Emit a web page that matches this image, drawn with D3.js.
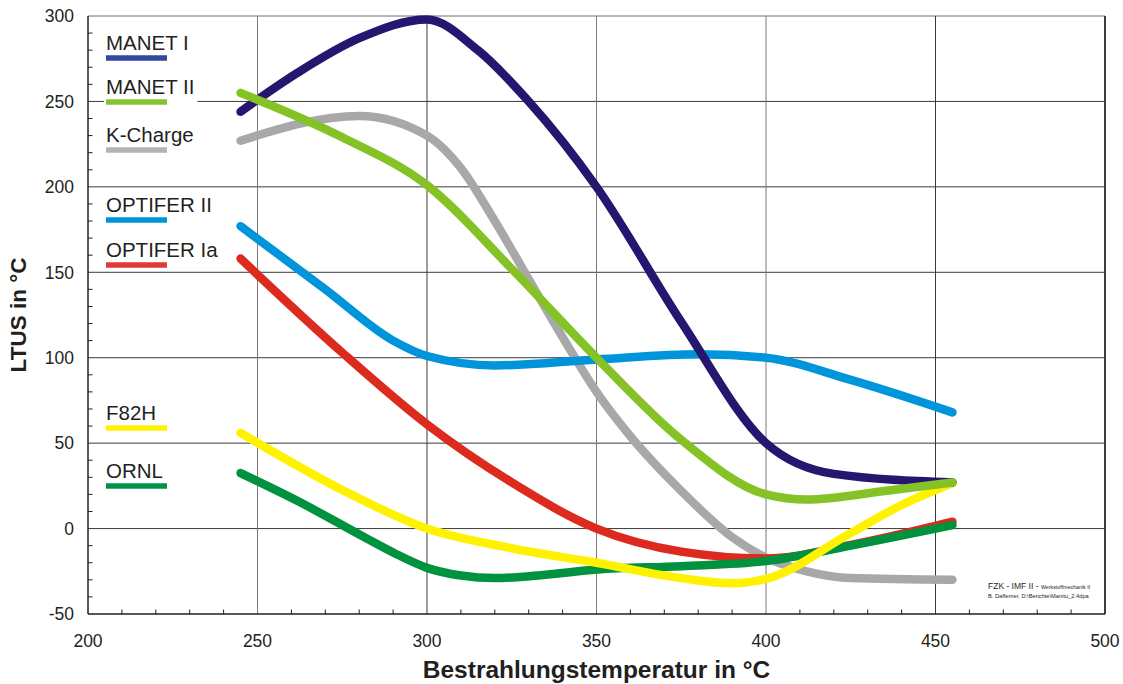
<!DOCTYPE html>
<html>
<head>
<meta charset="utf-8">
<script src="https://cdn.jsdelivr.net/npm/d3@7"></script>
<style>
  body { margin: 0; background: #fff; }
  text { font-family: 'Liberation Sans', Arial, sans-serif; fill: #231f20; }
</style>
</head>
<body>
<div class="chart"></div>
<script>
// readings from the chart: [temperature, LTUS]
const manet1 = [[245, 244], [262, 267], [280, 287], [300, 298], [315, 280], [330, 250], [350, 200], [375, 121], [400, 50], [420, 32], [455, 27]]
const manet2 = [[245, 255], [275, 229], [300, 201], [325, 152], [350, 100], [375, 52], [400, 20], [412, 17], [435, 22], [455, 27]]
const kCharge = [[245, 227], [280, 241.5], [300, 230], [310, 211], [320, 180], [330, 146], [340, 112], [350, 80], [360, 54], [375, 22], [390, -5], [400, -17], [412, -25], [425, -29], [455, -30]]
const optifer2 = [[245, 177], [270, 140], [290, 110], [300, 101], [320, 95.5], [350, 99], [380, 102], [400, 100], [425, 87], [455, 68]]
const optifer1a = [[245, 158], [275, 103], [300, 61], [325, 27], [350, 0], [375, -13.5], [400, -17.5], [425, -9.6], [455, 4]]
const f82h = [[245, 56], [275, 22.6], [300, 0], [325, -11.5], [350, -20], [375, -29], [390, -32], [400, -29.5], [425, -2.6], [440, 13.8], [455, 26.7]]
const ornl = [[245, 32.5], [262, 16], [281, -4.5], [291, -15], [300, -23], [310, -27.5], [320, -29], [335, -27], [350, -24], [375, -22], [400, -19], [425, -10], [455, 2]]

const seriesNames = ['MANET I', 'MANET II', 'K-Charge', 'OPTIFER II', 'OPTIFER Ia', 'F82H', 'ORNL']
const xTicks = [200, 250, 300, 350, 400, 450, 500]
const yTicks = [-50, 0, 50, 100, 150, 200, 250, 300]

const series = [
  {name: seriesNames[2], data: kCharge, color: '#a8a8a8', key: '#b1b3b6', ly: 142},
  {name: seriesNames[4], data: optifer1a, color: '#dc2a1e', key: '#e03a35', ly: 257},
  {name: seriesNames[6], data: ornl, color: '#00923f', key: '#009245', ly: 478},
  {name: seriesNames[5], data: f82h, color: '#fff200', key: '#fff200', ly: 420},
  {name: seriesNames[3], data: optifer2, color: '#0095da', key: '#0095da', ly: 212},
  {name: seriesNames[0], data: manet1, color: '#27166f', key: '#34499a', ly: 50},
  {name: seriesNames[1], data: manet2, color: '#84c225', key: '#86c332', ly: 94}
]

const margin = {top: 16, right: 18, bottom: 70, left: 88}
const W = 1123, H = 684
const width = W - margin.left - margin.right
const height = H - margin.top - margin.bottom

const x = d3.scaleLinear().domain([200, 500]).range([0, width])
const y = d3.scaleLinear().domain([-50, 300]).range([height, 0])

const svg = d3.select('.chart').append('svg')
  .attr('width', W)
  .attr('height', H)
const g = svg.append('g')
  .attr('transform', 'translate(' + margin.left + ',' + margin.top + ')')

// grid
g.append('g').selectAll('line').data(yTicks.slice(1)).join('line')
  .attr('x1', 0).attr('x2', width)
  .attr('y1', d => y(d)).attr('y2', d => y(d))
  .attr('stroke', d => d === 300 ? '#6d6e71' : '#3a3a3a').attr('stroke-width', 1)
g.append('g').selectAll('line').data(xTicks.slice(1)).join('line')
  .attr('x1', d => x(d)).attr('x2', d => x(d))
  .attr('y1', 0).attr('y2', height)
  .attr('stroke', d => (d === 300 || d === 450 || d === 500) ? '#3a3a3a' : '#7a7a7a').attr('stroke-width', 1)

// minor ticks
g.append('g').selectAll('line').data(d3.range(-40, 300, 10).filter(v => v % 50 !== 0)).join('line')
  .attr('x1', 0).attr('x2', 4.5)
  .attr('y1', d => y(d)).attr('y2', d => y(d))
  .attr('stroke', '#231f20')
g.append('g').selectAll('line').data(d3.range(210, 500, 10).filter(v => v % 50 !== 0)).join('line')
  .attr('x1', d => x(d)).attr('x2', d => x(d))
  .attr('y1', height).attr('y2', height - 4.5)
  .attr('stroke', '#231f20')

// axes lines
g.append('line').attr('x1', 0).attr('x2', 0).attr('y1', 0).attr('y2', height)
  .attr('stroke', '#231f20').attr('stroke-width', 1.5)
g.append('line').attr('x1', 0).attr('x2', width).attr('y1', height).attr('y2', height)
  .attr('stroke', '#231f20').attr('stroke-width', 1.5)

// tick labels
g.append('g').selectAll('text').data(yTicks).join('text')
  .attr('x', -14).attr('y', d => y(d))
  .attr('dy', '0.36em')
  .attr('text-anchor', 'end')
  .style('font-size', '17.5px')
  .text(d => d)
g.append('g').selectAll('text').data(xTicks).join('text')
  .attr('x', d => x(d)).attr('y', height + 33)
  .attr('text-anchor', 'middle')
  .style('font-size', '17.5px')
  .text(d => d)

// axis titles
svg.append('text')
  .attr('x', margin.left + width / 2).attr('y', 678)
  .attr('text-anchor', 'middle')
  .style('font-size', '24.5px').style('font-weight', 'bold')
  .text('Bestrahlungstemperatur in °C')
svg.append('text')
  .attr('transform', 'translate(26,' + (margin.top + height / 2) + ') rotate(-90)')
  .attr('text-anchor', 'middle')
  .style('font-size', '22.5px').style('font-weight', 'bold')
  .text('LTUS in °C')

// legend
const legend = svg.append('g')
series.forEach(s => {
  const t = legend.append('text')
    .attr('x', 106).attr('y', s.ly)
    .style('font-size', '20.5px')
    .text(s.name)
  const w = t.node().getComputedTextLength()
  legend.insert('rect', 'text')
    .attr('x', 104).attr('y', s.ly - 17)
    .attr('width', w + 5).attr('height', 25)
    .attr('fill', '#fff')
  legend.append('line')
    .attr('x1', 106).attr('x2', 167)
    .attr('y1', s.ly + 8).attr('y2', s.ly + 8)
    .attr('stroke', s.key).attr('stroke-width', 5.5)
})

// curves
const line = d3.line()
  .curve(d3.curveMonotoneX)
  .x(d => x(d[0]))
  .y(d => y(d[1]))

g.append('g').selectAll('path').data(series).join('path')
  .attr('d', d => line(d.data))
  .attr('fill', 'none')
  .attr('stroke', d => d.color)
  .attr('stroke-width', 8.5)
  .attr('stroke-linecap', 'round')
  .attr('stroke-linejoin', 'round')

// right border
g.append('line').attr('x1', width).attr('x2', width).attr('y1', 0).attr('y2', height)
  .attr('stroke', '#231f20').attr('stroke-width', 1.5)

// footnote
const note = svg.append('text').attr('x', 988).attr('y', 589)
note.append('tspan').style('font-size', '8.5px').text('FZK - IMF II - ')
note.append('tspan').style('font-size', '5.3px').text('Werkstoffmechanik II')
svg.append('text').attr('x', 988).attr('y', 598)
  .style('font-size', '5.7px')
  .text('B. Dafferner, D:\\Berichte\\Manitu_2.4dpa')
</script>
</body>
</html>
